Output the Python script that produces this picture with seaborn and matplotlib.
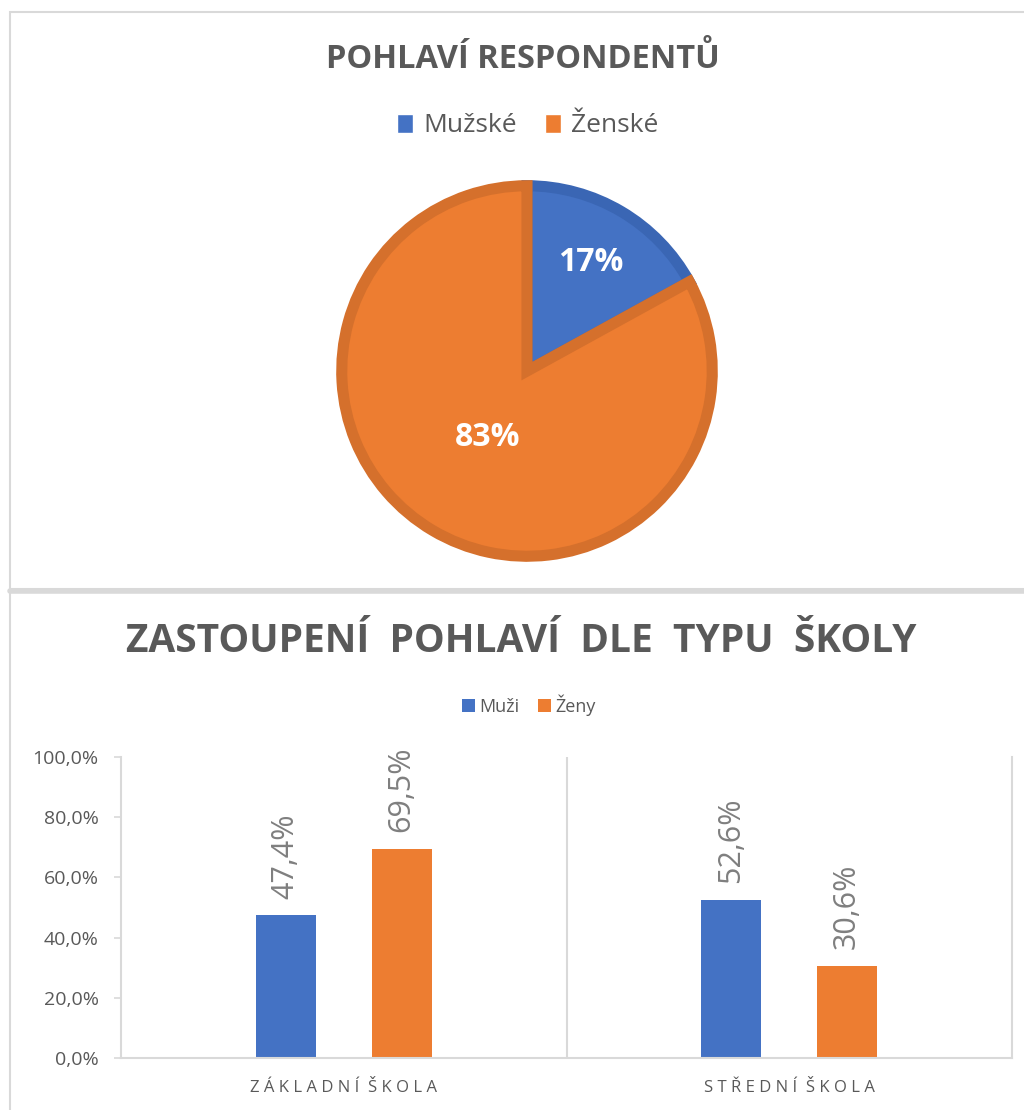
import pandas as pd
import seaborn as sns
import matplotlib.pyplot as plt
from matplotlib.patches import Patch, Rectangle
from matplotlib.lines import Line2D

# pie: gender of respondents
pie_labels = ["Mužské", "Ženské"]
pie_shares = [17, 83]

# bars: gender by school type
schools = ["ZÁKLADNÍ ŠKOLA", "STŘEDNÍ ŠKOLA"]
sexes = ["Muži", "Ženy"]
men = [0.474, 0.526]
women = [0.695, 0.306]

y_ticks = [0.0, 0.2, 0.4, 0.6, 0.8, 1.0]
y_tick_labels = ["0,0%", "20,0%", "40,0%", "60,0%", "80,0%", "100,0%"]

blue = "#4472C4"
orange = "#ED7D31"
blue_edge = "#3A66B4"
orange_edge = "#D5702C"
grey = "#595959"
label_grey = "#7F7F7F"
line_grey = "#D9D9D9"

sns.set_theme(style="white")
plt.rcParams["font.family"] = ["Open Sans", "DejaVu Sans"]

W, H = 1024, 1110
fig = plt.figure(figsize=(W / 100, H / 100), dpi=100)


def fx(px):
    return px / W


def fy(py):
    return 1 - py / H


# panel frames
fig.add_artist(Rectangle((fx(10), fy(589)), 1.0, fy(12) - fy(589),
                         transform=fig.transFigure, fill=False,
                         ec=line_grey, lw=1.5))
fig.add_artist(Line2D([fx(10), 1.0], [fy(591), fy(591)],
                      transform=fig.transFigure, color=line_grey, lw=4))
fig.add_artist(Line2D([fx(10), fx(10)], [fy(591), 0.0],
                      transform=fig.transFigure, color=line_grey, lw=1.5))

# ---- pie ----
cx, cy, r = 527, 371, 190
pad = 1.04
ax_pie = fig.add_axes([fx(cx - r * pad), fy(cy + r * pad),
                       2 * r * pad / W, 2 * r * pad / H])
wedges, texts, autotexts = ax_pie.pie(
    pie_shares, colors=[blue, orange], startangle=90, counterclock=False,
    radius=0.975, autopct="%.0f%%", pctdistance=0.68,
    wedgeprops=dict(linewidth=8, joinstyle="miter"),
)
for w, ec in zip(wedges, [blue_edge, orange_edge]):
    w.set_edgecolor(ec)
for t in autotexts:
    t.set_color("white")
    t.set_fontsize(23)
    t.set_fontweight("bold")
x, y = autotexts[1].get_position()
autotexts[1].set_position((x * 0.42 / 0.68, y * 0.42 / 0.68))
ax_pie.set_xlim(-pad, pad)
ax_pie.set_ylim(-pad, pad)
ax_pie.set_aspect("equal")
ax_pie.axis("off")

fig.text(fx(523), fy(68), "POHLAVÍ RESPONDENTŮ", ha="center", va="baseline",
         fontsize=23.5, fontweight="bold", color=grey)
fig.legend(handles=[Patch(fc=blue), Patch(fc=orange)], labels=pie_labels,
           loc="center", bbox_to_anchor=(fx(528), fy(126)), ncol=2,
           frameon=False, fontsize=19, handlelength=0.6, handleheight=0.72,
           handletextpad=0.4, columnspacing=1.05, labelcolor=grey)

# ---- bars ----
df = pd.DataFrame({
    "Typ školy": schools * 2,
    "Pohlaví": [sexes[0]] * len(schools) + [sexes[1]] * len(schools),
    "Podíl": men + women,
})

ax = fig.add_axes([fx(121), fy(1058), (1012 - 121) / W, (1058 - 757) / H])
sns.barplot(data=df, x="Typ školy", y="Podíl", hue="Pohlaví",
            palette=[blue, orange], saturation=1, width=0.52, gap=0.48,
            linewidth=0, ax=ax)

for cont in ax.containers:
    ax.bar_label(cont,
                 labels=[f"{v * 100:.1f}%".replace(".", ",") for v in cont.datavalues],
                 rotation=90, padding=12, fontsize=22, color=label_grey)

ax.set_xlim(-0.5, 1.5)
ax.set_ylim(0, 1)
ax.set_xlabel("")
ax.set_ylabel("")
ax.set_yticks(y_ticks, y_tick_labels)
ax.set_xticks(range(len(schools)),
              ["  ".join(" ".join(wd) for wd in s.split()) for s in schools])
ax.set_xticks([0.5], minor=True)
ax.grid(axis="x", which="minor", color=line_grey, lw=1.5)
ax.set_axisbelow(True)
ax.tick_params(axis="y", which="major", left=True, length=5, width=1.2,
               color=line_grey, pad=11, labelsize=14, labelcolor=grey)
ax.tick_params(axis="x", which="both", length=0, pad=16, labelsize=12,
               labelcolor=grey)
for side in ["left", "right", "bottom"]:
    ax.spines[side].set_color(line_grey)
    ax.spines[side].set_linewidth(1.5)
ax.spines["top"].set_visible(False)

fig.text(fx(521), fy(652), "ZASTOUPENÍ  POHLAVÍ  DLE  TYPU  ŠKOLY",
         ha="center", va="baseline", fontsize=28, fontweight="bold",
         color=grey)
sns.move_legend(ax, "center", bbox_to_anchor=(fx(529), fy(705)),
                bbox_transform=fig.transFigure, ncol=2, frameon=False,
                title=None, fontsize=13, handlelength=0.72, handleheight=0.72,
                handletextpad=0.25, columnspacing=1.05, labelcolor=grey)

fig.savefig("out.png", dpi=100)
